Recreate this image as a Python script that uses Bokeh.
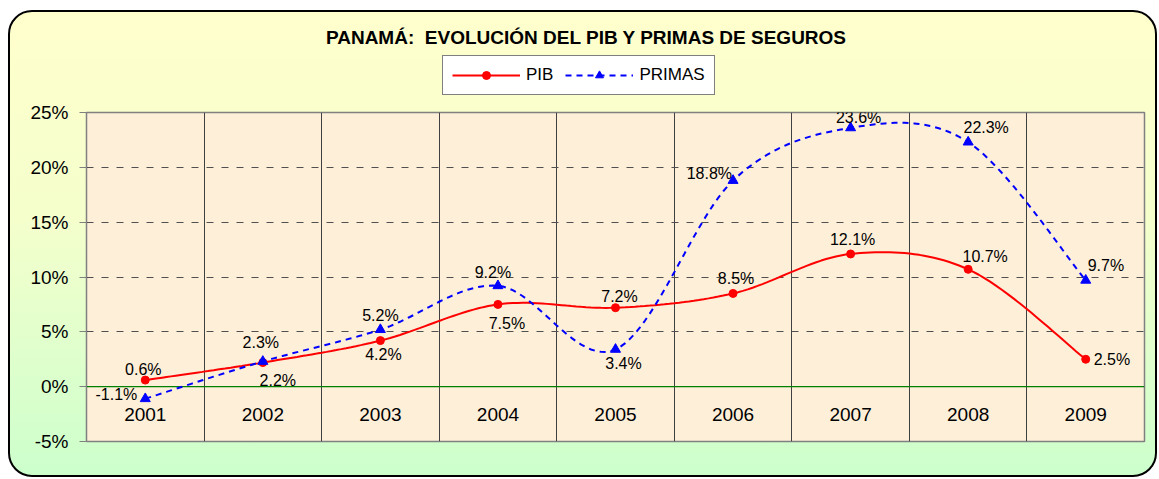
import numpy as np
from bokeh.plotting import figure
from bokeh.layouts import column
from bokeh.models import (ColumnDataSource, FixedTicker, PrintfTickFormatter, Span,
                          Label, Legend, LegendItem, InlineStyleSheet, Range1d)
from bokeh.core.properties import value
from bokeh.embed import file_html
from bokeh.resources import INLINE

# ---------------- data ----------------
years = ["2001", "2002", "2003", "2004", "2005", "2006", "2007", "2008", "2009"]
pib = [0.6, 2.2, 4.2, 7.5, 7.2, 8.5, 12.1, 10.7, 2.5]
primas = [-1.1, 2.3, 5.2, 9.2, 3.4, 18.8, 23.6, 22.3, 9.7]
y_ticks = [-5, 0, 5, 10, 15, 20, 25]
title_text = "PANAMÁ:\u00a0 EVOLUCIÓN DEL PIB Y PRIMAS DE SEGUROS"
series_names = ["PIB", "PRIMAS"]

# label placement (screen px offsets, alignment)
pib_dx = [-2, 15, 3, 9, 4, 3, 2, 17, 8]
pib_dy = [-11, 18, 14, 19, -11, -15, -14, -13, 0]
pib_align = ["center", "center", "center", "center", "center", "center", "center", "center", "left"]
pri_dx = [-8, -2, 0, -5, 8, -1, 8, 18, 2]
pri_dy = [-4, -19, -14, -13, 14, -7, -10, -15, -15]
pri_align = ["right", "center", "center", "center", "center", "right", "center", "center", "left"]

FONT = "Liberation Sans"
RED = "#FF0000"
BLUE = "#0000FF"
DASH = "6 5"
W = 1151
HEAD_H = 100
LEFT, RIGHT = 86, 7


def smooth(xs, ys, n=24):
    """Catmull-Rom style smoothing (as in spreadsheet 'smoothed line')."""
    xs = np.asarray(xs, float)
    ys = np.asarray(ys, float)
    px = np.concatenate([[xs[0]], xs, [xs[-1]]])
    py = np.concatenate([[ys[0]], ys, [ys[-1]]])
    ox, oy = [], []
    for i in range(1, len(px) - 2):
        p0 = np.array([px[i - 1], py[i - 1]])
        p1 = np.array([px[i], py[i]])
        p2 = np.array([px[i + 1], py[i + 1]])
        p3 = np.array([px[i + 2], py[i + 2]])
        c1 = p1 + (p2 - p0) / 6.0
        c2 = p2 - (p3 - p1) / 6.0
        t = np.linspace(0, 1, n, endpoint=(i == len(px) - 3))
        b = ((1 - t) ** 3)[:, None] * p1 + (3 * (1 - t) ** 2 * t)[:, None] * c1 \
            + (3 * (1 - t) * t ** 2)[:, None] * c2 + (t ** 3)[:, None] * p2
        ox.extend(b[:, 0])
        oy.extend(b[:, 1])
    return ox, oy


xpos = list(range(1, len(years) + 1))

# ---------------- header: title + legend ----------------
h = figure(width=W, height=HEAD_H, output_backend="svg", toolbar_location=None,
           x_range=Range1d(0, 1), y_range=Range1d(0, 1),
           min_border_left=LEFT, min_border_right=RIGHT, min_border_top=0,
           min_border_bottom=0)
h.axis.visible = False
h.grid.visible = False
h.outline_line_color = None
h.border_fill_alpha = 0
h.background_fill_alpha = 0

h.add_layout(Label(x=586 - LEFT, y=HEAD_H - 37, x_units="screen", y_units="screen",
                   text=title_text, text_font=FONT, text_font_size="19px",
                   text_font_style="bold", text_align="center", text_baseline="middle",
                   text_color="#000000"))

# legend-only renderers (NaN data: nothing drawn in the plot)
empty = ColumnDataSource(dict(x=[np.nan], y=[np.nan]))
hl1 = h.line("x", "y", source=empty, line_color=RED, line_width=2)
hm1 = h.scatter("x", "y", source=empty, marker="circle", size=8, fill_color=RED, line_color=RED)
hl2 = h.line("x", "y", source=empty, line_color=BLUE, line_width=2, line_dash=DASH)
hm2 = h.scatter("x", "y", source=empty, marker="triangle", size=10, fill_color=BLUE,
                line_color=BLUE)
legend = Legend(items=[LegendItem(label=series_names[0], renderers=[hl1, hm1]),
                       LegendItem(label=series_names[1], renderers=[hl2, hm2])],
                orientation="horizontal", location=(442 - LEFT, HEAD_H - 95),
                label_text_font=FONT, label_text_font_size="17px",
                label_text_color="#000000",
                glyph_width=68, glyph_height=20, label_standoff=6, spacing=12,
                padding=9, margin=0,
                border_line_color="#000000", border_line_width=1,
                background_fill_color="#FFFFFF", background_fill_alpha=1)
h.add_layout(legend, "center")

# ---------------- main chart ----------------
p = figure(width=W, height=441 - HEAD_H + 30, output_backend="svg", toolbar_location=None,
           x_range=(0.5, len(years) + 0.5), y_range=(y_ticks[0], y_ticks[-1]),
           min_border_left=LEFT, min_border_right=RIGHT, min_border_top=112 - HEAD_H,
           min_border_bottom=30)
p.border_fill_alpha = 0
p.background_fill_color = "#FDEFD8"
p.outline_line_color = "#808080"
p.outline_line_width = 1.5

p.xaxis.visible = False
p.yaxis.ticker = FixedTicker(ticks=y_ticks)
p.yaxis.formatter = PrintfTickFormatter(format="%d%%")
p.yaxis.major_label_text_font = FONT
p.yaxis.major_label_text_font_size = "19px"
p.yaxis.major_label_text_color = "#000000"
p.yaxis.major_tick_out = 7
p.yaxis.major_tick_in = 0
p.yaxis.major_tick_line_color = "#808080"
p.yaxis.minor_tick_line_color = None
p.yaxis.axis_line_color = "#808080"
p.yaxis.major_label_standoff = 11

p.xgrid.ticker = FixedTicker(ticks=[x + 0.5 for x in xpos[:-1]])
p.xgrid.grid_line_color = "#404040"
p.xgrid.grid_line_width = 1
p.ygrid.ticker = FixedTicker(ticks=y_ticks[2:-1])
p.ygrid.grid_line_color = "#505050"
p.ygrid.grid_line_dash = "7 8"
p.ygrid.grid_line_width = 1

p.add_layout(Span(location=0, dimension="width", line_color="#008000", line_width=1.2,
                  level="underlay"))

cat_src = ColumnDataSource(dict(x=xpos, y=[-2.5] * len(years), t=years))
p.text(x="x", y="y", text="t", source=cat_src, text_font=value(FONT),
       text_font_size="19px", text_align="center", text_baseline="middle",
       text_color="#000000")

sx, sy = smooth(xpos, pib)
p.line(sx, sy, line_color=RED, line_width=2)
p.scatter(xpos, pib, marker="circle", size=8, fill_color=RED, line_color=RED)

tx, ty = smooth(xpos, primas)
p.line(tx, ty, line_color=BLUE, line_width=2, line_dash=DASH)
p.scatter(xpos, primas, marker="triangle", size=10, fill_color=BLUE, line_color=BLUE)

pib_src = ColumnDataSource(dict(x=xpos, y=pib, t=[f"{v:.1f}%" for v in pib],
                                dx=pib_dx, dy=pib_dy, al=pib_align))
p.text(x="x", y="y", text="t", x_offset="dx", y_offset="dy", text_align="al",
       source=pib_src, text_font=value(FONT), text_font_size="16px",
       text_baseline="middle", text_color="#000000")
pri_src = ColumnDataSource(dict(x=xpos, y=primas, t=[f"{v:.1f}%" for v in primas],
                                dx=pri_dx, dy=pri_dy, al=pri_align))
p.text(x="x", y="y", text="t", x_offset="dx", y_offset="dy", text_align="al",
       source=pri_src, text_font=value(FONT), text_font_size="16px",
       text_baseline="middle", text_color="#000000")

layout = column(h, p, spacing=0)
layout.stylesheets = [InlineStyleSheet(css=""":host {
  position: relative;
  overflow: visible;
}
:host::before {
  content: "";
  position: absolute;
  left: 8px;
  top: 10px;
  width: 1149px;
  height: 467px;
  box-sizing: border-box;
  border: 2px solid #000000;
  border-radius: 24px;
  background: linear-gradient(to bottom, #FFFFCC 0%, #F4FFCC 45%, #CCFFCC 100%);
  z-index: -1;
}""")]

open("out.html", "w").write(file_html(layout, INLINE))
